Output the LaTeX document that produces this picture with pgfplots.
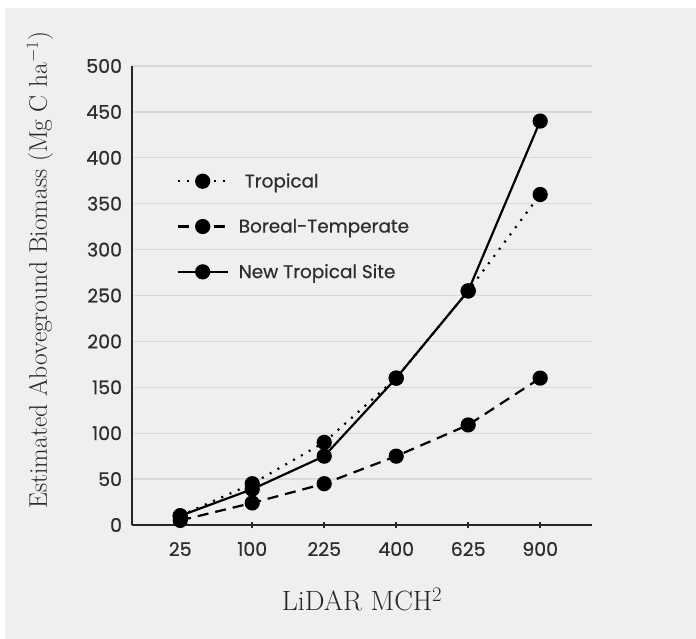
\documentclass[border=0pt]{standalone}
\usepackage{fontspec}
\usepackage{pgfplots}
\pgfplotsset{compat=1.18}
\newfontfamily\chartsans{Poppins}[FakeBold=0.6]
\definecolor{bg}{HTML}{EFEFEF}
\definecolor{gridc}{HTML}{D9D9D9}
\definecolor{tickc}{HTML}{2E2E2E}

\begin{document}
\begin{tikzpicture}
\fill[white] (0,0) rectangle (696bp,639bp);
\fill[bg] (5bp,0) rectangle (696bp,631bp);
\begin{axis}[
    at={(132bp,114bp)}, anchor=south west,
    scale only axis, width=460bp, height=459bp,
    xmin=-0.67, xmax=5.72, ymin=0, ymax=500,
    axis x line*=bottom, axis y line*=left,
    axis line style={-, line width=2.2bp, black!85},
    xtick={0,...,5}, xticklabels={25,100,225,400,625,900},
    ytick={0,50,...,500},
    ymajorgrids=true,
    grid style={gridc, line width=1.3bp},
    tick align=center, major tick length=7bp,
    ytick style={draw=none},
    xtick style={line width=1.6bp, black!85},
    ticklabel style={font=\chartsans\fontsize{19}{22}\selectfont, text=tickc},
    /pgf/number format/assume math mode=true,
    yticklabel style={xshift=-3bp},
    xticklabel style={yshift=-10bp},
    ylabel={Estimated Aboveground Biomass (Mg C ha$^{-1}$)},
    xlabel={LiDAR MCH$^2$},
    every axis y label/.style={at={(rel axis cs:0,0.555)}, rotate=90, anchor=center, yshift=92bp, font=\fontsize{25.5}{30}\selectfont, text=black!85},
    every axis x label/.style={at={(rel axis cs:0.5,0)}, anchor=center, yshift=-75bp, font=\fontsize{28}{32}\selectfont, text=black!85},
    legend style={at={(rel axis cs:0.09,0.775)}, anchor=north west, draw=none, fill=none,
        font=\chartsans\fontsize{18.5}{22}\selectfont, text=tickc, row sep=26bp,
        column sep=8bp, cells={anchor=west}},
    legend image code/.code={\draw[mark repeat=2,mark phase=2,#1] plot coordinates {(0bp,0bp)(25bp,0bp)(50bp,0bp)};},
    every axis plot/.append style={black, line width=2.2bp, mark=*, mark size=6.5bp, mark options={solid, fill=black}},
]
\addplot[dash pattern=on 2bp off 7bp] coordinates {
    (0,10)(1,45)(2,90)(3,160)(4,255)(5,360)
};
\addlegendentry{\hspace{6bp}Tropical}
\addplot[dash pattern=on 11bp off 7bp] coordinates {
    (0,5)(1,24)(2,45)(3,75)(4,109)(5,160)
};
\addlegendentry{Boreal-Temperate}
\addplot[solid] coordinates {
    (0,10)(1,39)(2,75)(3,160)(4,255)(5,440)
};
\addlegendentry{New Tropical Site}
\end{axis}
\end{tikzpicture}
\end{document}
